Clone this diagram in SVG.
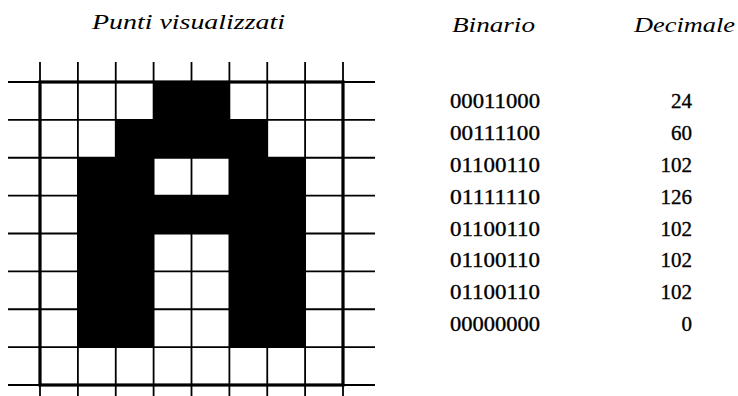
<svg xmlns="http://www.w3.org/2000/svg" width="738" height="396" viewBox="0 0 738 396">
<style>
.h{font-family:"Liberation Serif","DejaVu Serif",serif;font-style:italic;font-size:20px;fill:#000}
.n{font-family:"Liberation Serif","DejaVu Serif",serif;font-size:21px;fill:#000;stroke:#000;stroke-width:0.35}
.g{stroke:#000;stroke-width:1.8;fill:none}
.b{stroke:#000;stroke-width:3.2;fill:none}
.k{fill:#000}
</style>
<rect width="738" height="396" fill="#fff"/>
<text class="h" x="92" y="29" textLength="193" lengthAdjust="spacingAndGlyphs">Punti visualizzati</text>
<text class="h" x="452" y="32" textLength="83" lengthAdjust="spacingAndGlyphs">Binario</text>
<text class="h" x="634" y="32" textLength="101" lengthAdjust="spacingAndGlyphs">Decimale</text>
<g id="cells">
<rect class="k" x="153.6" y="82" width="75.8" height="37.9"/>
<rect class="k" x="115.75" y="119.9" width="151.5" height="37.9"/>
<rect class="k" x="77.9" y="157.75" width="75.7" height="189.35"/>
<rect class="k" x="229.4" y="157.75" width="75.7" height="189.35"/>
<rect class="k" x="77.9" y="195.6" width="227.2" height="37.9"/>
</g>
<g id="grid">
<path class="g" d="M40 62V396M77.9 62V396M115.75 62V396M153.6 62V396M191.5 62V396M229.4 62V396M267.25 62V396M305.1 62V396M343 62V396"/>
<path class="g" d="M8 82H375M8 119.9H375M8 157.75H375M8 195.6H375M8 233.5H375M8 271.4H375M8 309.25H375M8 347.1H375M8 385H375"/>
<rect class="b" x="40" y="82" width="303" height="303"/>
</g>
<g id="binary">
<text class="n" x="450" y="108" textLength="90" lengthAdjust="spacingAndGlyphs">00011000</text>
<text class="n" x="450" y="140" textLength="90" lengthAdjust="spacingAndGlyphs">00111100</text>
<text class="n" x="450" y="172" textLength="90" lengthAdjust="spacingAndGlyphs">01100110</text>
<text class="n" x="450" y="204" textLength="90" lengthAdjust="spacingAndGlyphs">01111110</text>
<text class="n" x="450" y="235.5" textLength="90" lengthAdjust="spacingAndGlyphs">01100110</text>
<text class="n" x="450" y="267" textLength="90" lengthAdjust="spacingAndGlyphs">01100110</text>
<text class="n" x="450" y="299" textLength="90" lengthAdjust="spacingAndGlyphs">01100110</text>
<text class="n" x="450" y="331" textLength="90" lengthAdjust="spacingAndGlyphs">00000000</text>
</g>
<g id="decimal" text-anchor="end">
<text class="n" x="692" y="108">24</text>
<text class="n" x="692" y="140">60</text>
<text class="n" x="692" y="172">102</text>
<text class="n" x="692" y="204">126</text>
<text class="n" x="692" y="235.5">102</text>
<text class="n" x="692" y="267">102</text>
<text class="n" x="692" y="299">102</text>
<text class="n" x="692" y="331">0</text>
</g>
</svg>
